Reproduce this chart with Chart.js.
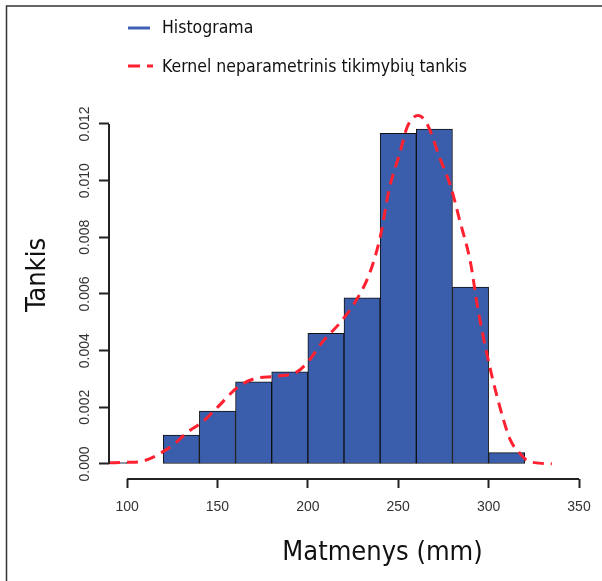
<!DOCTYPE html>
<html lang="lt">
<head>
<meta charset="UTF-8">
<title>Histograma</title>
<script src="https://cdn.jsdelivr.net/npm/chart.js@4.4.0/dist/chart.umd.min.js"></script>
<style>
    body { margin: 0; background: #fff; }
    canvas { display: block; }
</style>
</head>
<body>
<canvas id="hist" width="602" height="581"></canvas>
<script>
// histogram bins (midpoints, width 20) and density
const binMids = [90, 110, 130, 150, 170, 190, 210, 230, 250, 270, 290, 310];
const binDensity = [0.00005, 0, 0.00102, 0.00187, 0.0029, 0.00325, 0.00461, 0.00586, 0.01167, 0.01182, 0.00624, 0.0004];

// kernel density curve
const kernelX = [90, 100, 107, 113, 119, 126, 133, 142, 150, 161, 170, 183, 194, 200, 208, 218, 226, 234, 240, 245, 251, 255, 261, 266, 273, 279, 284, 290, 294, 299, 305, 312, 317, 321, 328, 335];
const kernelY = [0.00004, 0.00006, 0.00008, 0.0002, 0.0004, 0.0007, 0.0011, 0.0015, 0.002, 0.0027, 0.003, 0.0031, 0.00325, 0.0036, 0.0043, 0.005, 0.0057, 0.0067, 0.008, 0.0097, 0.011, 0.0119, 0.0123, 0.012, 0.0108, 0.0098, 0.0086, 0.0071, 0.0055, 0.0039, 0.0023, 0.00085, 0.0004, 0.00014, 0.00003, 0.00001];

const xTicks = [100, 150, 200, 250, 300, 350];
const yTicks = [0, 0.002, 0.004, 0.006, 0.008, 0.010, 0.012];

const legendNames = ['Histograma', 'Kernel neparametrinis tikimybių tankis'];
const legendColors = ['#3f60b5', '#ff2030'];

const axisColor = '#222';
const labelColor = '#333';
const titleFont = '"DejaVu Sans Condensed", "DejaVu Sans", sans-serif';

const extras = {
    id: 'extras',
    afterDraw(chart) {
        const ctx = chart.ctx;
        const xs = chart.scales.x, ys = chart.scales.y;
        ctx.save();

        // R style axes: lines only between first and last tick
        ctx.strokeStyle = axisColor;
        ctx.lineWidth = 2;
        ctx.beginPath();
        ctx.moveTo(chart.chartArea.left, ys.getPixelForValue(yTicks[0]));
        ctx.lineTo(chart.chartArea.left, ys.getPixelForValue(yTicks[yTicks.length - 1]));
        ctx.moveTo(xs.getPixelForValue(xTicks[0]), chart.chartArea.bottom);
        ctx.lineTo(xs.getPixelForValue(xTicks[xTicks.length - 1]), chart.chartArea.bottom);
        ctx.stroke();

        // rotated y tick labels
        ctx.fillStyle = labelColor;
        ctx.font = '14px "Liberation Sans", Arial, sans-serif';
        ctx.textAlign = 'center';
        ctx.textBaseline = 'middle';
        yTicks.forEach(v => {
            ctx.save();
            ctx.translate(85, ys.getPixelForValue(v));
            ctx.rotate(-Math.PI / 2);
            ctx.fillText(v.toFixed(3), 0, 0);
            ctx.restore();
        });

        // axis titles
        ctx.fillStyle = '#111';
        ctx.font = '27px ' + titleFont;
        ctx.textBaseline = 'alphabetic';
        ctx.fillText('Matmenys (mm)', 382.5, 560);
        ctx.save();
        ctx.translate(45, 275);
        ctx.rotate(-Math.PI / 2);
        ctx.fillText('Tankis', 0, 0);
        ctx.restore();

        // legend
        ctx.lineWidth = 3;
        ctx.strokeStyle = legendColors[0];
        ctx.beginPath();
        ctx.moveTo(128, 28);
        ctx.lineTo(150, 28);
        ctx.stroke();
        ctx.strokeStyle = legendColors[1];
        ctx.setLineDash([12, 7]);
        ctx.beginPath();
        ctx.moveTo(128, 66);
        ctx.lineTo(153, 66);
        ctx.stroke();
        ctx.setLineDash([]);
        ctx.font = '17.5px ' + titleFont;
        ctx.textAlign = 'left';
        ctx.textBaseline = 'middle';
        ctx.fillText(legendNames[0], 162, 28);
        ctx.fillText(legendNames[1], 162, 67);

        // frame
        ctx.strokeStyle = '#333';
        ctx.lineWidth = 1.5;
        ctx.beginPath();
        ctx.moveTo(6.5, 581);
        ctx.lineTo(6.5, 6);
        ctx.lineTo(602, 6);
        ctx.stroke();
        ctx.restore();
    }
};

new Chart(document.getElementById('hist'), {
    type: 'bar',
    data: {
        datasets: [
            {
                type: 'line',
                label: legendNames[1],
                data: kernelX.map((x, i) => ({x: x, y: kernelY[i]})),
                borderColor: legendColors[1],
                borderWidth: 3,
                borderDash: [11, 7],
                pointRadius: 0,
                cubicInterpolationMode: 'monotone',
                fill: false,
                order: 0
            },
            {
                type: 'bar',
                label: legendNames[0],
                data: binMids.map((x, i) => ({x: x, y: binDensity[i]})),
                backgroundColor: '#3a5eab',
                borderColor: '#111',
                borderWidth: 1,
                borderSkipped: false,
                barPercentage: 1,
                categoryPercentage: 1,
                clip: 0,
                order: 1
            }
        ]
    },
    options: {
        responsive: false,
        animation: false,
        devicePixelRatio: 1,
        layout: { padding: { left: 0, right: 23, top: 101.3, bottom: 0 } },
        plugins: { legend: { display: false }, tooltip: { enabled: false } },
        scales: {
            x: {
                type: 'linear',
                min: 90,
                max: 350,
                offset: false,
                afterBuildTicks: axis => { axis.ticks = xTicks.map(v => ({value: v})); },
                afterFit: axis => { axis.height = 102; },
                border: { display: false },
                grid: { offset: false, drawOnChartArea: false, drawTicks: true, tickLength: 9, tickWidth: 2, color: axisColor },
                ticks: {
                    autoSkip: false,
                    maxRotation: 0,
                    padding: 11,
                    color: labelColor,
                    font: { family: '"Liberation Sans", Arial, sans-serif', size: 14 }
                }
            },
            y: {
                min: -0.00053,
                max: 0.0128,
                afterBuildTicks: axis => { axis.ticks = yTicks.map(v => ({value: v})); },
                afterFit: axis => { axis.width = 109; },
                border: { display: false },
                grid: { drawOnChartArea: false, drawTicks: true, tickLength: 10, tickWidth: 2, color: axisColor },
                ticks: { display: false }
            }
        }
    },
    plugins: [extras]
});
</script>
</body>
</html>
